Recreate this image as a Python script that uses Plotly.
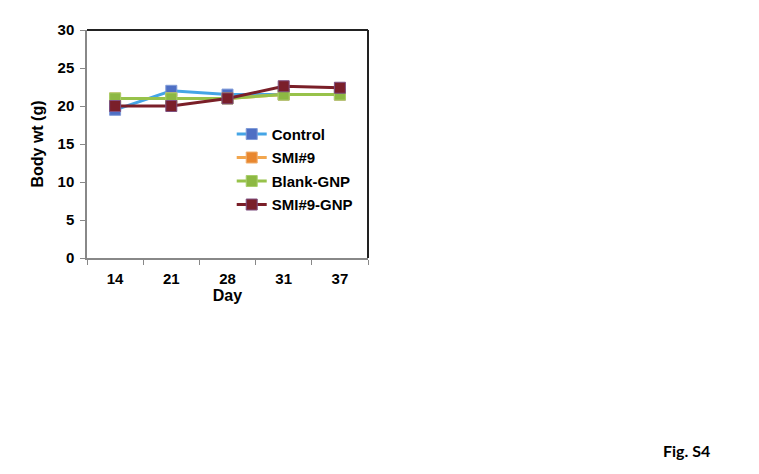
import plotly.graph_objects as go

days = ["14", "21", "28", "31", "37"]
control = [19.5, 22.0, 21.5, 21.5, 21.5]
smi9 = [21.0, 21.0, 21.0, 21.5, 21.5]
blank_gnp = [21.0, 21.0, 21.0, 21.5, 21.5]
smi9_gnp = [20.0, 20.0, 21.0, 22.6, 22.4]

series = [
    ("Control", control, "#45A5E6", "#4E6FC4", "#7F9BD8"),
    ("SMI#9", smi9, "#F2A64E", "#E8872F", "#F0B070"),
    ("Blank-GNP", blank_gnp, "#97C24A", "#8DB843", "#A9CE6A"),
    ("SMI#9-GNP", smi9_gnp, "#7A1F28", "#7A1F2A", "#7E5080"),
]

fam = "Liberation Sans, Arial, sans-serif"

fig = go.Figure()
for name, vals, lc, mc, mlc in series:
    fig.add_trace(go.Scatter(
        x=days, y=vals, name=name, mode="lines+markers", legendgroup=name,
        line=dict(color=lc, width=3),
        marker=dict(symbol="square", size=11, color=mc, line=dict(color=mlc, width=1)),
    ))

W, H = 751, 466
L, T, PW, PH = 79, 22, 281, 228

fig.update_layout(
    width=W, height=H,
    margin=dict(l=L, r=W - L - PW, t=T, b=H - T - PH),
    paper_bgcolor="white", plot_bgcolor="white",
    showlegend=True,
    legend=dict(
        x=0.515, y=0.615, xanchor="left", yanchor="top",
        font=dict(family=fam, size=15, color="#000000", weight="bold"),
        bgcolor="rgba(0,0,0,0)", itemwidth=30, tracegroupgap=1,
    ),
    xaxis=dict(
        type="category", showgrid=False, zeroline=False,
        showline=True, linecolor="#888888", linewidth=1.5,
        ticks="outside", ticklen=5, tickcolor="#888888", tickson="boundaries",
        tickfont=dict(family=fam, size=15, color="#000000", weight="bold"),
        ticklabelstandoff=6,
        title=dict(text="Day", font=dict(family=fam, size=16, color="#000000", weight="bold"), standoff=2),
        range=[-0.5, 4.5], fixedrange=True,
    ),
    yaxis=dict(
        range=[0, 30], dtick=5, showgrid=False, zeroline=False,
        showline=True, linecolor="#888888", linewidth=1.5,
        ticks="outside", ticklen=5, tickcolor="#888888",
        tickfont=dict(family=fam, size=15, color="#000000", weight="bold"),
        ticklabelstandoff=3,
        title=dict(text="Body wt (g)", font=dict(family=fam, size=16, color="#000000", weight="bold"), standoff=10),
    ),
    shapes=[
        dict(type="line", xref="paper", yref="paper", x0=0, x1=1, y0=1, y1=1, line=dict(color="#222222", width=2)),
        dict(type="line", xref="paper", yref="paper", x0=1, x1=1, y0=0, y1=1, line=dict(color="#222222", width=2)),
    ],
    annotations=[
        dict(text="Fig. S4", xref="paper", yref="paper", x=(686 - 87) / PW, y=(258 - 450) / PH,
             xanchor="center", yanchor="middle", showarrow=False,
             font=dict(family="Lato, Open Sans, sans-serif", size=16, color="#000000", weight="bold")),
    ],
)

fig.write_html("out.html")
